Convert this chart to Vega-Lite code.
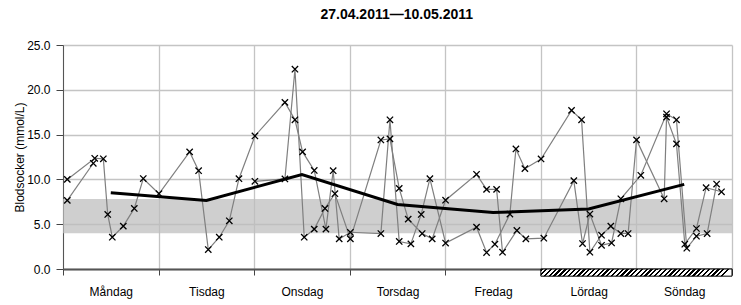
{
  "$schema": "https://vega.github.io/schema/vega-lite/v6.json",
  "width": 669,
  "height": 224,
  "autosize": "none",
  "padding": {"left": 63, "top": 45, "right": 9, "bottom": 36},
  "background": "#ffffff",
  "title": {
    "text": "27.04.2011—10.05.2011",
    "font": "Liberation Sans",
    "fontSize": 14,
    "fontWeight": "bold",
    "color": "#000000",
    "frame": "bounds",
    "anchor": "middle",
    "offset": 17
  },
  "config": {
    "view": {"stroke": null},
    "axis": {
      "labelFont": "Liberation Sans",
      "titleFont": "Liberation Sans",
      "labelFontSize": 12,
      "titleFontSize": 12,
      "labelColor": "#000000",
      "titleColor": "#000000",
      "titleFontWeight": "normal",
      "gridColor": "#c4c4c4",
      "gridWidth": 1.3,
      "tickColor": "#444444",
      "domainColor": "#555555"
    }
  },
  "datasets": {
    "band": [{"t": 0, "t2": 7, "v": 4, "v2": 7.8}],
    "weekend": [{"t": 5, "t2": 7}],
    "avg": [
      {"t": 0.5, "v": 8.52},
      {"t": 1.5, "v": 7.65},
      {"t": 2.5, "v": 10.55},
      {"t": 3.5, "v": 7.2},
      {"t": 4.5, "v": 6.3},
      {"t": 5.5, "v": 6.7},
      {"t": 6.5, "v": 9.45}
    ],
    "readings": [
      {"s": "A", "t": 0.045, "v": 10.0},
      {"s": "A", "t": 0.332, "v": 12.36},
      {"s": "A", "t": 0.422, "v": 12.3},
      {"s": "A", "t": 0.468, "v": 6.09},
      {"s": "A", "t": 0.516, "v": 3.55},
      {"s": "A", "t": 0.631, "v": 4.78},
      {"s": "A", "t": 0.746, "v": 6.76},
      {"s": "A", "t": 0.84, "v": 10.1},
      {"s": "A", "t": 1.004, "v": 8.4},
      {"s": "A", "t": 1.325, "v": 13.07},
      {"s": "A", "t": 1.419, "v": 10.97},
      {"s": "A", "t": 1.52, "v": 2.17},
      {"s": "A", "t": 1.635, "v": 3.55},
      {"s": "A", "t": 1.74, "v": 5.38},
      {"s": "A", "t": 1.841, "v": 10.08},
      {"s": "A", "t": 2.008, "v": 14.85},
      {"s": "A", "t": 2.322, "v": 18.6},
      {"s": "A", "t": 2.427, "v": 16.65},
      {"s": "A", "t": 2.507, "v": 13.07},
      {"s": "A", "t": 2.629, "v": 11.0},
      {"s": "A", "t": 2.751, "v": 4.45},
      {"s": "A", "t": 2.827, "v": 10.97},
      {"s": "A", "t": 2.89, "v": 3.36},
      {"s": "A", "t": 3.007, "v": 4.1},
      {"s": "A", "t": 3.326, "v": 3.96},
      {"s": "A", "t": 3.421, "v": 16.65},
      {"s": "A", "t": 3.518, "v": 3.07},
      {"s": "A", "t": 3.64, "v": 2.8},
      {"s": "A", "t": 3.748, "v": 6.09},
      {"s": "A", "t": 3.839, "v": 10.08},
      {"s": "A", "t": 4.003, "v": 2.9},
      {"s": "A", "t": 4.327, "v": 4.67},
      {"s": "A", "t": 4.432, "v": 1.84},
      {"s": "A", "t": 4.519, "v": 2.77},
      {"s": "A", "t": 4.676, "v": 6.13},
      {"s": "A", "t": 4.739, "v": 13.4},
      {"s": "A", "t": 4.833, "v": 11.2},
      {"s": "A", "t": 5.002, "v": 12.28},
      {"s": "A", "t": 5.321, "v": 17.7},
      {"s": "A", "t": 5.426, "v": 16.65},
      {"s": "A", "t": 5.513, "v": 1.87},
      {"s": "A", "t": 5.635, "v": 3.77},
      {"s": "A", "t": 5.732, "v": 4.78},
      {"s": "A", "t": 5.837, "v": 3.96},
      {"s": "A", "t": 5.913, "v": 3.96},
      {"s": "A", "t": 6.001, "v": 14.41},
      {"s": "A", "t": 6.29, "v": 7.84},
      {"s": "A", "t": 6.315, "v": 16.95},
      {"s": "A", "t": 6.419, "v": 13.96},
      {"s": "A", "t": 6.506, "v": 2.77},
      {"s": "A", "t": 6.628, "v": 4.52},
      {"s": "A", "t": 6.729, "v": 9.07},
      {"s": "A", "t": 6.89, "v": 8.62},
      {"s": "B", "t": 2.008, "v": 9.79},
      {"s": "B", "t": 2.322, "v": 10.05},
      {"s": "B", "t": 2.427, "v": 22.3},
      {"s": "B", "t": 2.524, "v": 3.55},
      {"s": "B", "t": 2.629, "v": 4.45},
      {"s": "B", "t": 2.741, "v": 6.76},
      {"s": "B", "t": 2.845, "v": 8.4},
      {"s": "B", "t": 3.007, "v": 3.36},
      {"s": "B", "t": 3.326, "v": 14.4},
      {"s": "B", "t": 3.421, "v": 14.52},
      {"s": "B", "t": 3.518, "v": 9.0},
      {"s": "B", "t": 3.612, "v": 5.57},
      {"s": "B", "t": 3.758, "v": 3.96},
      {"s": "B", "t": 3.863, "v": 3.36},
      {"s": "B", "t": 4.003, "v": 7.68},
      {"s": "B", "t": 4.327, "v": 10.57},
      {"s": "B", "t": 4.432, "v": 8.89},
      {"s": "B", "t": 4.537, "v": 8.89},
      {"s": "B", "t": 4.599, "v": 1.87},
      {"s": "B", "t": 4.749, "v": 4.3},
      {"s": "B", "t": 4.843, "v": 3.36},
      {"s": "B", "t": 5.031, "v": 3.44},
      {"s": "B", "t": 5.345, "v": 9.86},
      {"s": "B", "t": 5.436, "v": 2.84},
      {"s": "B", "t": 5.513, "v": 6.13},
      {"s": "B", "t": 5.635, "v": 2.65},
      {"s": "B", "t": 5.74, "v": 2.91},
      {"s": "B", "t": 5.837, "v": 7.84},
      {"s": "B", "t": 6.046, "v": 10.46},
      {"s": "B", "t": 6.315, "v": 17.32},
      {"s": "B", "t": 6.419, "v": 16.65},
      {"s": "B", "t": 6.527, "v": 2.32},
      {"s": "B", "t": 6.628, "v": 3.66},
      {"s": "B", "t": 6.74, "v": 3.96},
      {"s": "B", "t": 6.839, "v": 9.48},
      {"s": "C", "t": 0.045, "v": 7.66},
      {"s": "C", "t": 0.317, "v": 11.8}
    ]
  },
  "layer": [
    {
      "data": {"name": "band"},
      "mark": {"type": "rect", "fill": "#bdbdbd", "opacity": 0.72},
      "encoding": {
        "x": {
          "field": "t",
          "type": "quantitative",
          "scale": {"domain": [0, 7], "nice": false, "zero": false},
          "axis": {
            "title": null,
            "values": [0, 1, 2, 3, 4, 5, 6, 7],
            "labelExpr": "datum.value < 7 ? ['Måndag','Tisdag','Onsdag','Torsdag','Fredag','Lördag','Söndag'][datum.value] : ''",
            "labelOffset": 47.8,
            "labelFlush": false,
            "labelOverlap": false,
            "labelBound": false,
            "labelAlign": "center",
            "tickSize": 6,
            "labelPadding": 11,
            "domainWidth": 2,
            "grid": true
          }
        },
        "x2": {"field": "t2"},
        "y": {
          "field": "v",
          "type": "quantitative",
          "scale": {"domain": [0, 25], "nice": false},
          "axis": {
            "title": "Blodsocker (mmol/L)",
            "values": [0, 5, 10, 15, 20, 25],
            "format": ".1f",
            "tickSize": 7,
            "labelPadding": 6,
            "titlePadding": 0,
            "domainWidth": 1,
            "grid": true
          }
        },
        "y2": {"field": "v2"}
      }
    },
    {
      "data": {"name": "weekend"},
      "mark": {
        "type": "rect",
        "stroke": "#000000",
        "strokeWidth": 1,
        "fill": {
          "gradient": "linear",
          "x1": 0, "y1": 0, "x2": 1, "y2": 0.0377,
          "stops": [
            {"offset": 0, "color": "#000"}, {"offset": 0.012, "color": "#000"}, {"offset": 0.012, "color": "#fff"}, {"offset": 0.025, "color": "#fff"},
            {"offset": 0.025, "color": "#000"}, {"offset": 0.037, "color": "#000"}, {"offset": 0.037, "color": "#fff"}, {"offset": 0.05, "color": "#fff"},
            {"offset": 0.05, "color": "#000"}, {"offset": 0.062, "color": "#000"}, {"offset": 0.062, "color": "#fff"}, {"offset": 0.075, "color": "#fff"},
            {"offset": 0.075, "color": "#000"}, {"offset": 0.087, "color": "#000"}, {"offset": 0.087, "color": "#fff"}, {"offset": 0.1, "color": "#fff"},
            {"offset": 0.1, "color": "#000"}, {"offset": 0.112, "color": "#000"}, {"offset": 0.112, "color": "#fff"}, {"offset": 0.125, "color": "#fff"},
            {"offset": 0.125, "color": "#000"}, {"offset": 0.137, "color": "#000"}, {"offset": 0.137, "color": "#fff"}, {"offset": 0.15, "color": "#fff"},
            {"offset": 0.15, "color": "#000"}, {"offset": 0.162, "color": "#000"}, {"offset": 0.162, "color": "#fff"}, {"offset": 0.175, "color": "#fff"},
            {"offset": 0.175, "color": "#000"}, {"offset": 0.187, "color": "#000"}, {"offset": 0.187, "color": "#fff"}, {"offset": 0.2, "color": "#fff"},
            {"offset": 0.2, "color": "#000"}, {"offset": 0.212, "color": "#000"}, {"offset": 0.212, "color": "#fff"}, {"offset": 0.225, "color": "#fff"},
            {"offset": 0.225, "color": "#000"}, {"offset": 0.237, "color": "#000"}, {"offset": 0.237, "color": "#fff"}, {"offset": 0.25, "color": "#fff"},
            {"offset": 0.25, "color": "#000"}, {"offset": 0.262, "color": "#000"}, {"offset": 0.262, "color": "#fff"}, {"offset": 0.275, "color": "#fff"},
            {"offset": 0.275, "color": "#000"}, {"offset": 0.287, "color": "#000"}, {"offset": 0.287, "color": "#fff"}, {"offset": 0.3, "color": "#fff"},
            {"offset": 0.3, "color": "#000"}, {"offset": 0.312, "color": "#000"}, {"offset": 0.312, "color": "#fff"}, {"offset": 0.325, "color": "#fff"},
            {"offset": 0.325, "color": "#000"}, {"offset": 0.337, "color": "#000"}, {"offset": 0.337, "color": "#fff"}, {"offset": 0.35, "color": "#fff"},
            {"offset": 0.35, "color": "#000"}, {"offset": 0.362, "color": "#000"}, {"offset": 0.362, "color": "#fff"}, {"offset": 0.375, "color": "#fff"},
            {"offset": 0.375, "color": "#000"}, {"offset": 0.387, "color": "#000"}, {"offset": 0.387, "color": "#fff"}, {"offset": 0.4, "color": "#fff"},
            {"offset": 0.4, "color": "#000"}, {"offset": 0.412, "color": "#000"}, {"offset": 0.412, "color": "#fff"}, {"offset": 0.425, "color": "#fff"},
            {"offset": 0.425, "color": "#000"}, {"offset": 0.437, "color": "#000"}, {"offset": 0.437, "color": "#fff"}, {"offset": 0.45, "color": "#fff"},
            {"offset": 0.45, "color": "#000"}, {"offset": 0.462, "color": "#000"}, {"offset": 0.462, "color": "#fff"}, {"offset": 0.475, "color": "#fff"},
            {"offset": 0.475, "color": "#000"}, {"offset": 0.487, "color": "#000"}, {"offset": 0.487, "color": "#fff"}, {"offset": 0.5, "color": "#fff"},
            {"offset": 0.5, "color": "#000"}, {"offset": 0.512, "color": "#000"}, {"offset": 0.512, "color": "#fff"}, {"offset": 0.525, "color": "#fff"},
            {"offset": 0.525, "color": "#000"}, {"offset": 0.537, "color": "#000"}, {"offset": 0.537, "color": "#fff"}, {"offset": 0.55, "color": "#fff"},
            {"offset": 0.55, "color": "#000"}, {"offset": 0.562, "color": "#000"}, {"offset": 0.562, "color": "#fff"}, {"offset": 0.575, "color": "#fff"},
            {"offset": 0.575, "color": "#000"}, {"offset": 0.587, "color": "#000"}, {"offset": 0.587, "color": "#fff"}, {"offset": 0.6, "color": "#fff"},
            {"offset": 0.6, "color": "#000"}, {"offset": 0.612, "color": "#000"}, {"offset": 0.612, "color": "#fff"}, {"offset": 0.625, "color": "#fff"},
            {"offset": 0.625, "color": "#000"}, {"offset": 0.637, "color": "#000"}, {"offset": 0.637, "color": "#fff"}, {"offset": 0.65, "color": "#fff"},
            {"offset": 0.65, "color": "#000"}, {"offset": 0.662, "color": "#000"}, {"offset": 0.662, "color": "#fff"}, {"offset": 0.675, "color": "#fff"},
            {"offset": 0.675, "color": "#000"}, {"offset": 0.687, "color": "#000"}, {"offset": 0.687, "color": "#fff"}, {"offset": 0.7, "color": "#fff"},
            {"offset": 0.7, "color": "#000"}, {"offset": 0.712, "color": "#000"}, {"offset": 0.712, "color": "#fff"}, {"offset": 0.725, "color": "#fff"},
            {"offset": 0.725, "color": "#000"}, {"offset": 0.737, "color": "#000"}, {"offset": 0.737, "color": "#fff"}, {"offset": 0.75, "color": "#fff"},
            {"offset": 0.75, "color": "#000"}, {"offset": 0.762, "color": "#000"}, {"offset": 0.762, "color": "#fff"}, {"offset": 0.775, "color": "#fff"},
            {"offset": 0.775, "color": "#000"}, {"offset": 0.787, "color": "#000"}, {"offset": 0.787, "color": "#fff"}, {"offset": 0.8, "color": "#fff"},
            {"offset": 0.8, "color": "#000"}, {"offset": 0.812, "color": "#000"}, {"offset": 0.812, "color": "#fff"}, {"offset": 0.825, "color": "#fff"},
            {"offset": 0.825, "color": "#000"}, {"offset": 0.837, "color": "#000"}, {"offset": 0.837, "color": "#fff"}, {"offset": 0.85, "color": "#fff"},
            {"offset": 0.85, "color": "#000"}, {"offset": 0.862, "color": "#000"}, {"offset": 0.862, "color": "#fff"}, {"offset": 0.875, "color": "#fff"},
            {"offset": 0.875, "color": "#000"}, {"offset": 0.887, "color": "#000"}, {"offset": 0.887, "color": "#fff"}, {"offset": 0.9, "color": "#fff"},
            {"offset": 0.9, "color": "#000"}, {"offset": 0.912, "color": "#000"}, {"offset": 0.912, "color": "#fff"}, {"offset": 0.925, "color": "#fff"},
            {"offset": 0.925, "color": "#000"}, {"offset": 0.937, "color": "#000"}, {"offset": 0.937, "color": "#fff"}, {"offset": 0.95, "color": "#fff"},
            {"offset": 0.95, "color": "#000"}, {"offset": 0.962, "color": "#000"}, {"offset": 0.962, "color": "#fff"}, {"offset": 0.975, "color": "#fff"},
            {"offset": 0.975, "color": "#000"}, {"offset": 0.987, "color": "#000"}, {"offset": 0.987, "color": "#fff"}, {"offset": 1, "color": "#fff"}
          ]
        }
      },
      "encoding": {
        "x": {"field": "t", "type": "quantitative"},
        "x2": {"field": "t2"},
        "y": {"datum": 0, "type": "quantitative"},
        "y2": {"datum": -0.8}
      }
    },
    {
      "data": {"name": "readings"},
      "mark": {"type": "line", "color": "#7f7f7f", "strokeWidth": 1.2},
      "encoding": {
        "x": {"field": "t", "type": "quantitative"},
        "y": {"field": "v", "type": "quantitative"},
        "detail": {"field": "s"},
        "order": {"field": "t", "type": "quantitative"}
      }
    },
    {
      "data": {"name": "readings"},
      "mark": {
        "type": "point",
        "shape": "M-1,-1L1,1M-1,1L1,-1",
        "filled": false,
        "color": "#000000",
        "strokeWidth": 1.3,
        "size": 40,
        "opacity": 1
      },
      "encoding": {
        "x": {"field": "t", "type": "quantitative"},
        "y": {"field": "v", "type": "quantitative"}
      }
    },
    {
      "data": {"name": "avg"},
      "mark": {"type": "line", "color": "#000000", "strokeWidth": 3},
      "encoding": {
        "x": {"field": "t", "type": "quantitative"},
        "y": {"field": "v", "type": "quantitative"}
      }
    }
  ]
}
